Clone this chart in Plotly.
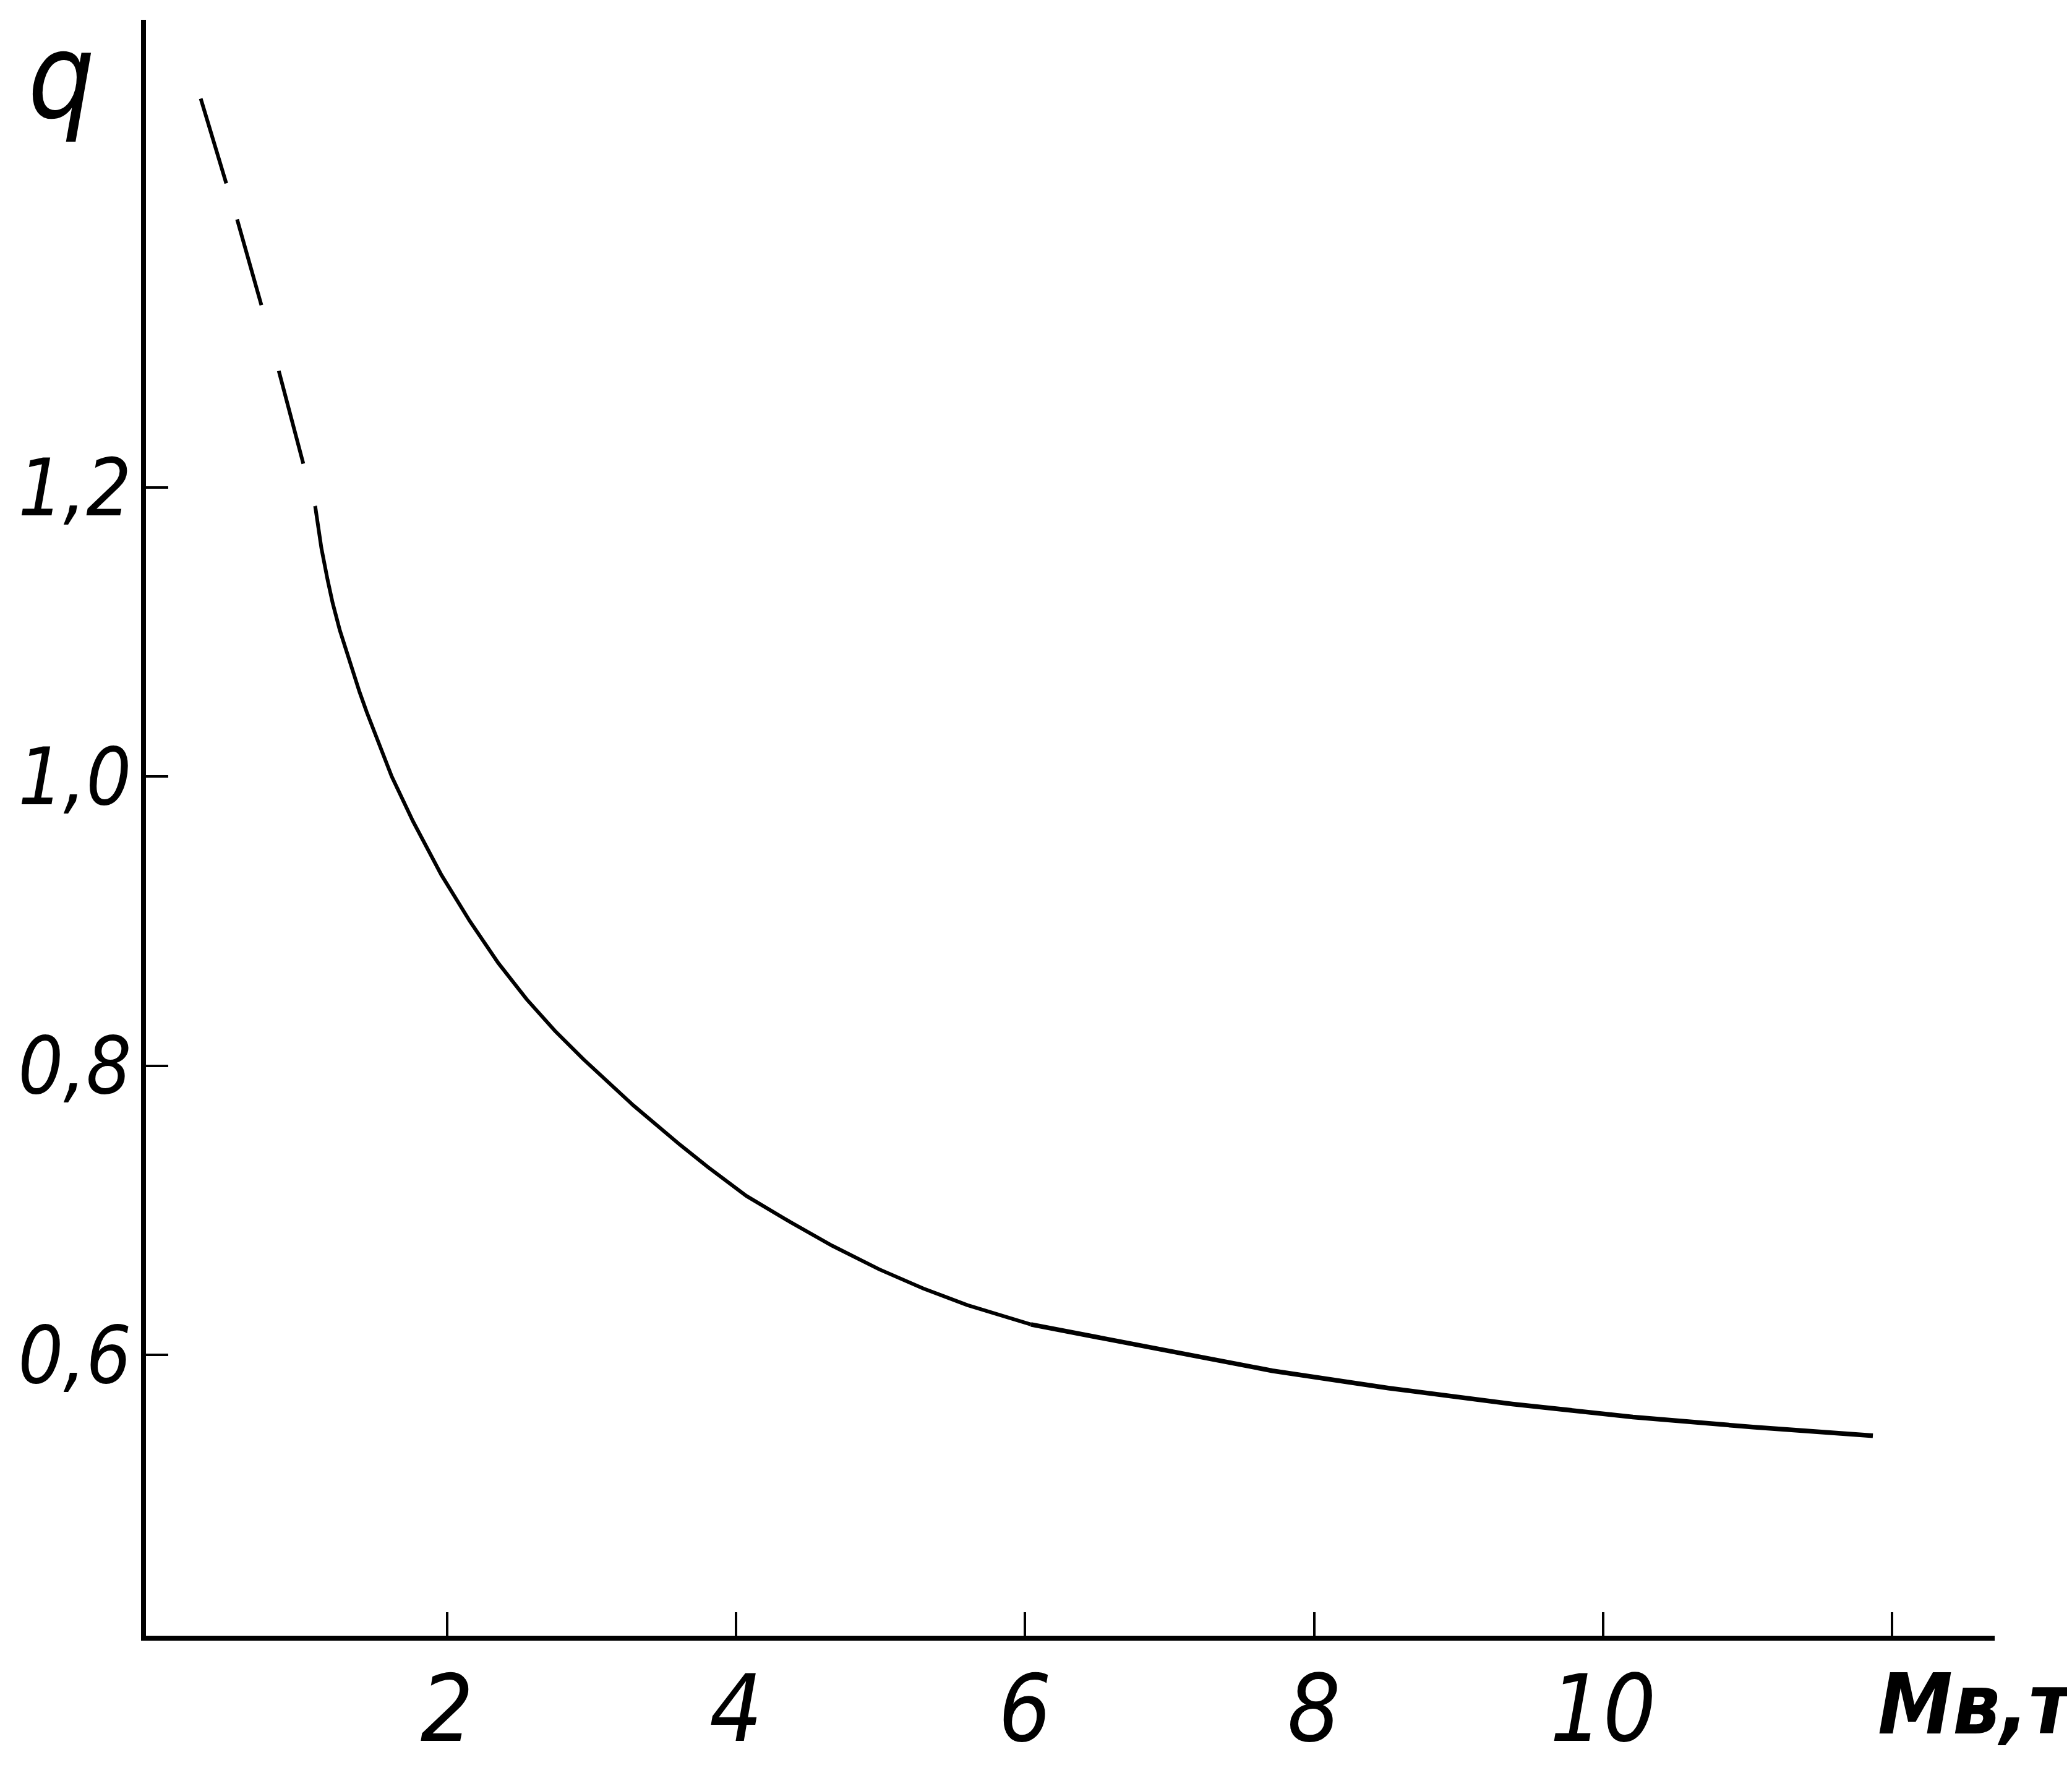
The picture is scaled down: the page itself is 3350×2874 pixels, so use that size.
import plotly.graph_objects as go

# ---- data ----
dash_x = [0.296, 0.476, 0.549, 0.716, 0.836, 1.007, 1.088]
dash_y = [1.469, 1.4105, 1.385, 1.326, 1.280, 1.216, 1.187]

solid_x = [1.088, 1.131, 1.174, 1.209, 1.259, 1.302, 1.345, 1.395, 1.445, 1.517,
           1.618, 1.765, 1.961, 2.158, 2.355, 2.551, 2.748, 2.944, 3.289, 3.614,
           3.805, 4.072, 4.378, 4.665, 4.990, 5.296, 5.601, 6.041]
solid_y = [1.187, 1.158, 1.136, 1.120, 1.101, 1.087, 1.0735, 1.0585, 1.0445, 1.0255,
           1.000, 0.969, 0.932, 0.900, 0.871, 0.846, 0.824, 0.8045, 0.7726, 0.7452,
           0.7299, 0.7099, 0.6917, 0.6755, 0.6592, 0.6459, 0.6344, 0.6210]

tail_x = [6.041, 6.289, 6.610, 6.910, 7.711, 8.515, 9.372, 10.206, 11.037, 11.867]
tail_y = [0.6210, 0.6163, 0.6096, 0.604, 0.589, 0.577, 0.566, 0.557, 0.550, 0.544]

x_tickvals = [2, 4, 6, 8, 10, 12]
x_ticktext = ["2", "4", "6", "8", "10", ""]
y_tickvals = [0.6, 0.8, 1.0, 1.2]
y_ticktext = ["0,6", "0,8", "1,0", "1,2"]

x_title = "Мв,т"
y_title = "q"

FONT = "DejaVu Sans Condensed, DejaVu Sans"

fig = go.Figure()
fig.add_trace(go.Scatter(x=dash_x, y=dash_y, mode="lines",
                         line=dict(color="black", width=6,
                                   dash="143px,61px,144px,110px,155px,71px"),
                         showlegend=False, hoverinfo="skip"))
fig.add_trace(go.Scatter(x=solid_x, y=solid_y, mode="lines",
                         line=dict(color="black", width=6),
                         showlegend=False, hoverinfo="skip"))
fig.add_trace(go.Scatter(x=tail_x, y=tail_y, mode="lines",
                         line=dict(color="black", width=7.5),
                         showlegend=False, hoverinfo="skip"))

fig.update_xaxes(range=[-0.083, 12.710], showgrid=False, zeroline=False,
                 showline=True, linecolor="black", linewidth=8,
                 ticks="inside", ticklen=38, tickwidth=4, tickcolor="black",
                 tickmode="array", tickvals=x_tickvals, ticktext=x_ticktext,
                 tickfont=dict(family=FONT, size=150, color="black", style="italic"),
                 ticklabelstandoff=-18, automargin=False)
fig.update_yaxes(range=[0.4057, 1.5235], showgrid=False, zeroline=False,
                 showline=True, linecolor="black", linewidth=8,
                 ticks="inside", ticklen=36, tickwidth=4, tickcolor="black",
                 tickmode="array", tickvals=y_tickvals, ticktext=y_ticktext,
                 tickfont=dict(family=FONT, size=128, color="black", style="italic"),
                 ticklabelstandoff=-10, automargin=False)

fig.add_annotation(text=y_title, xref="paper", yref="paper",
                   x=-0.0457, y=0.9644, xanchor="center", yanchor="middle",
                   showarrow=False, borderpad=0,
                   font=dict(family=FONT, size=190, color="black", style="italic"))
fig.add_annotation(text="<b>" + x_title + "</b>", xref="paper", yref="paper",
                   x=0.936, y=-0.012, xanchor="left", yanchor="top",
                   showarrow=False,
                   font=dict(family=FONT, size=135, color="black", style="italic"))

fig.update_layout(width=3350, height=2874,
                  margin=dict(l=228, r=133, t=24, b=238, pad=0, autoexpand=False),
                  paper_bgcolor="white", plot_bgcolor="white")

fig.write_html("out.html")
